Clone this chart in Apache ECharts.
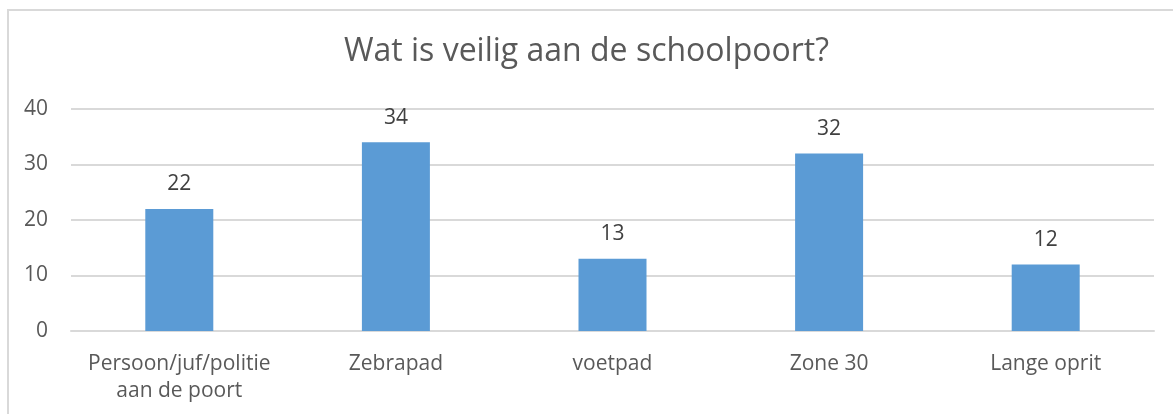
<!DOCTYPE html>
<html>
<head>
<meta charset="utf-8">
<script src="https://cdn.jsdelivr.net/npm/echarts@6/dist/echarts.min.js"></script>
<style>
  html, body { margin: 0; padding: 0; background: #fff; }
  #chart { width: 1173px; height: 414px; }
  #frame { position: absolute; left: 7px; top: 9px; width: 1180px; height: 420px;
           border: 2px solid #d9d9d9; box-sizing: border-box; pointer-events: none; }
</style>
</head>
<body>
<div id="chart"></div>
<div id="frame"></div>
<script>
const categories = ["Persoon/juf/politie\naan de poort", "Zebrapad", "voetpad", "Zone 30", "Lange oprit"];
const counts = [22, 34, 13, 32, 12];
const yTicks = { min: 0, max: 40, interval: 10 };

const font = "'Open Sans', sans-serif";
const myChart = echarts.init(document.getElementById("chart"));

const option = {
    animation: false,
    title: {
        text: "Wat is veilig aan de schoolpoort?",
        left: "center",
        top: 31,
        textStyle: { fontFamily: font, fontSize: 32, fontWeight: "normal", color: "#595959" },
    },
    grid: { left: 71, right: 19, top: 109, bottom: 83 },
    xAxis: {
        type: "category",
        data: categories,
        axisLine: { lineStyle: { color: "#d9d9d9", width: 2 } },
        axisTick: { show: false },
        axisLabel: { fontFamily: font, fontSize: 21, color: "#595959", margin: 20, lineHeight: 27, interval: 0 },
    },
    yAxis: {
        type: "value",
        min: yTicks.min,
        max: yTicks.max,
        interval: yTicks.interval,
        axisLine: { show: false },
        axisTick: { show: false },
        splitLine: { lineStyle: { color: "#d9d9d9", width: 2 } },
        axisLabel: { fontFamily: font, fontSize: 21, color: "#595959", margin: 23 },
    },
    series: [{
        type: "bar",
        data: counts,
        barWidth: 68,
        itemStyle: { color: "#5b9bd5" },
        label: {
            show: true,
            position: "top",
            distance: 14,
            fontFamily: font,
            fontSize: 21,
            color: "#404040",
        },
    }],
};

option && myChart.setOption(option);
</script>
</body>
</html>
